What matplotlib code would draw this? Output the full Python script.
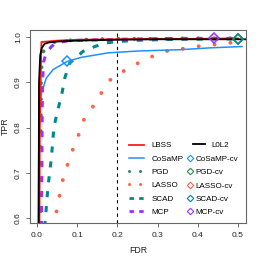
import matplotlib
matplotlib.use("Agg")
from matplotlib import pyplot as plt
from matplotlib.lines import Line2D

plt.rcParams["font.family"] = ["Liberation Sans", "DejaVu Sans"]

# ROC-type curves: FDR (x) vs TPR (y)
lbss_fdr = [0.006, 0.007, 0.011, 0.05, 0.1, 0.2, 0.3, 0.4, 0.5]
lbss_tpr = [0.55, 0.80, 0.989, 0.992, 0.994, 0.995, 0.996, 0.996, 0.997]

l0l2_fdr = [0.004, 0.005, 0.008, 0.012, 0.019, 0.03, 0.05, 0.1, 0.2, 0.3, 0.4, 0.53]
l0l2_tpr = [0.55, 0.90, 0.96, 0.976, 0.985, 0.988, 0.990, 0.992, 0.994, 0.995, 0.995, 0.995]

cosamp_fdr = [0.003, 0.005, 0.011, 0.023, 0.04, 0.075, 0.11, 0.177, 0.25, 0.356, 0.43, 0.51]
cosamp_tpr = [0.55, 0.843, 0.876, 0.909, 0.928, 0.946, 0.955, 0.965, 0.969, 0.972, 0.976, 0.979]

pgd_fdr = [0.009, 0.0095, 0.010, 0.0117, 0.0174, 0.03, 0.05, 0.089, 0.128, 0.2, 0.3, 0.4, 0.51]
pgd_tpr = [0.58, 0.80, 0.907, 0.942, 0.976, 0.986, 0.9905, 0.993, 0.9945, 0.996, 0.996, 0.997, 0.997]

lasso_fdr = [0.040, 0.042, 0.050, 0.057, 0.065, 0.077, 0.090, 0.104, 0.117, 0.139, 0.159,
             0.182, 0.212, 0.246, 0.281, 0.316, 0.356, 0.393, 0.432, 0.470, 0.509]
lasso_tpr = [0.58, 0.587, 0.621, 0.654, 0.687, 0.721, 0.754, 0.785, 0.818, 0.846, 0.875,
             0.905, 0.923, 0.940, 0.955, 0.968, 0.973, 0.979, 0.982, 0.987, 0.988]

scad_fdr = [0.019, 0.021, 0.027, 0.036, 0.042, 0.0505, 0.0565, 0.060, 0.069, 0.081, 0.114,
            0.144, 0.172, 0.2, 0.256, 0.35, 0.5]
scad_tpr = [0.58, 0.60, 0.666, 0.735, 0.80, 0.835, 0.855, 0.865, 0.909, 0.942, 0.968,
            0.979, 0.987, 0.990, 0.993, 0.995, 0.996]

mcp_fdr = [0.011, 0.013, 0.014, 0.016, 0.023, 0.036, 0.047, 0.08, 0.2, 0.35, 0.5]
mcp_tpr = [0.58, 0.84, 0.90, 0.944, 0.965, 0.979, 0.987, 0.992, 0.995, 0.997, 0.997]

# cross-validated picks (LASSO-cv falls outside the shown range)
cv_names = ["CoSaMP-cv", "PGD-cv", "LASSO-cv", "SCAD-cv", "MCP-cv"]
cv_fdr = [0.0746, 0.5, 0.535, 0.5, 0.44]
cv_tpr = [0.946, 0.996, 0.99, 0.996, 0.997]

col = {"LBSS": "#FF1A1A", "L0L2": "black", "CoSaMP": "#1E90FF", "PGD": "#2E8B57",
       "LASSO": "#FF6347", "SCAD": "#00898B", "MCP": "#9B30FF"}
cv_cols = [col["CoSaMP"], col["PGD"], col["LASSO"], col["SCAD"], col["MCP"]]

dotted = (0, (0.01, 4.1))
dashed = (0, (2.0, 2.9))

fig = plt.figure(figsize=(2.62, 2.62), dpi=100)
ax = fig.add_axes([30 / 262, 1 - 223 / 262, 216 / 262, 193 / 262])

ax.axvline(0.2, color="black", lw=0.8, linestyle=(0, (3, 3)), zorder=1)

ax.plot(lasso_fdr, lasso_tpr, color=col["LASSO"], lw=2.8, linestyle=dotted, dash_capstyle="round")
ax.plot(scad_fdr, scad_tpr, color=col["SCAD"], lw=2.2, linestyle=dashed)
ax.plot(cosamp_fdr, cosamp_tpr, color=col["CoSaMP"], lw=1.1)
ax.plot(pgd_fdr, pgd_tpr, color=col["PGD"], lw=2.8, linestyle=dotted, dash_capstyle="round")
ax.plot(mcp_fdr, mcp_tpr, color=col["MCP"], lw=2.2, linestyle=dashed)
ax.plot(lbss_fdr, lbss_tpr, color=col["LBSS"], lw=1.3)
ax.plot(l0l2_fdr, l0l2_tpr, color=col["L0L2"], lw=1.3)

for x, y, c in zip(cv_fdr, cv_tpr, cv_cols):
    ax.plot([x], [y], marker="D", ms=5, mfc="none", mec=c, mew=1.1, linestyle="none", zorder=5)

ax.set_xlim(-0.0174, 0.52)
ax.set_ylim(0.589, 1.0155)
ax.set_xticks([0.0, 0.1, 0.2, 0.3, 0.4, 0.5])
ax.set_yticks([0.6, 0.7, 0.8, 0.9, 1.0])
ax.tick_params(labelsize=6, length=3.2, width=0.6, color="#555555", labelcolor="#222222")
ax.tick_params(axis="x", pad=3.5)
ax.tick_params(axis="y", pad=2.5)
for lab in ax.get_yticklabels():
    lab.set_rotation(90)
    lab.set_va("center")
for s in ax.spines.values():
    s.set_color("#666666")
    s.set_linewidth(0.8)
ax.set_xlabel("FDR", fontsize=6.3, labelpad=5, color="#222222")
ax.set_ylabel("TPR", fontsize=6.3, labelpad=3.5, color="#222222")

# legend, built as three blocks like the original
left_names = ["LBSS", "CoSaMP", "PGD", "LASSO", "SCAD", "MCP"]
leg_dot = (0, (0.01, 3.6))
leg_dash = (0, (1.6, 1.9))
left_handles = [
    Line2D([], [], color=col["LBSS"], lw=1.3),
    Line2D([], [], color=col["CoSaMP"], lw=1.1),
    Line2D([], [], color=col["PGD"], lw=2.2, linestyle=leg_dot, dash_capstyle="round"),
    Line2D([], [], color=col["LASSO"], lw=2.2, linestyle=leg_dot, dash_capstyle="round"),
    Line2D([], [], color=col["SCAD"], lw=2.0, linestyle=leg_dash),
    Line2D([], [], color=col["MCP"], lw=2.0, linestyle=leg_dash),
]
leg_kw = dict(frameon=False, fontsize=5.8, borderpad=0, borderaxespad=0, labelspacing=0.7)
leg1 = ax.legend(left_handles, left_names, loc="center left", bbox_to_anchor=(0.458, 0.229),
                 handlelength=1.9, handletextpad=0.9, **leg_kw)
ax.add_artist(leg1)
leg2 = ax.legend([Line2D([], [], color="black", lw=1.3)], ["L0L2"], loc="center left",
                 bbox_to_anchor=(0.755, 0.405), handlelength=1.5, handletextpad=0.8, **leg_kw)
ax.add_artist(leg2)
cv_handles = [Line2D([], [], marker="D", ms=3.3, mfc="none", mec=c, mew=0.8, linestyle="none")
              for c in cv_cols]
ax.legend(cv_handles, cv_names, loc="center left", bbox_to_anchor=(0.724, 0.193),
          handlelength=0.8, handletextpad=0.35, **leg_kw)

fig.savefig("out.png", dpi=100)
